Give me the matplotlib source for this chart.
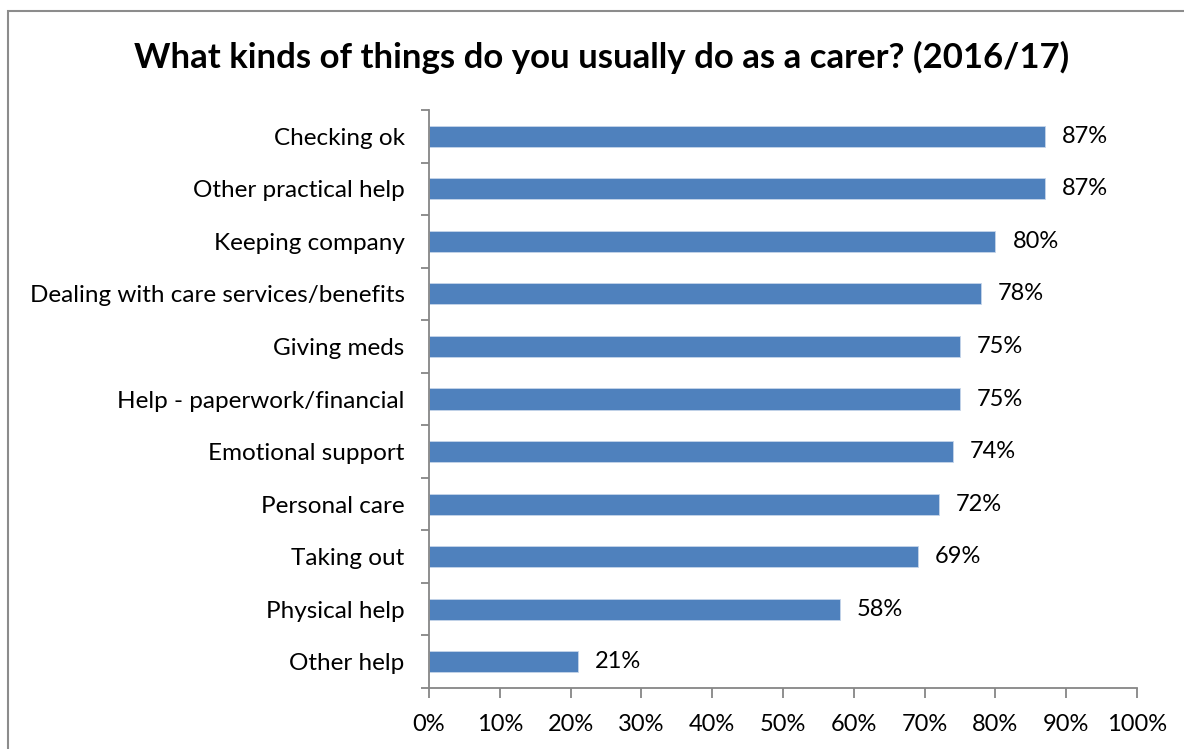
import matplotlib.pyplot as plt
import matplotlib.patches as patches
import numpy as np

plt.rcParams['font.family'] = ['Lato', 'DejaVu Sans']

categories = [
    "Checking ok",
    "Other practical help",
    "Keeping company",
    "Dealing with care services/benefits",
    "Giving meds",
    "Help - paperwork/financial",
    "Emotional support",
    "Personal care",
    "Taking out",
    "Physical help",
    "Other help",
]
values = [87, 87, 80, 78, 75, 75, 74, 72, 69, 58, 21]
x_ticks = list(range(0, 101, 10))
x_tick_labels = [f"{t}%" for t in x_ticks]

BAR_COLOR = "#4F81BD"
AXIS_COLOR = "#868686"

fig = plt.figure(figsize=(11.84, 7.49), dpi=100)
ax = fig.add_axes([429 / 1184, 61 / 749, 708 / 1184, 578 / 749])

y = np.arange(len(categories))
ax.barh(y, values, height=0.4, color=BAR_COLOR, edgecolor="#C6D5EA", linewidth=0.6)

for yi, v in zip(y, values):
    ax.text(v + 2.4, yi, f"{v}%", va="center", ha="left", fontsize=17, color="black")

ax.set_xlim(0, 100)
ax.set_ylim(len(categories) - 0.5, -0.5)
ax.set_yticks(y)
ax.set_yticklabels(categories, fontsize=17.5)
ax.set_yticks(np.arange(-0.5, len(categories)), minor=True)
ax.tick_params(axis="y", which="major", length=0, pad=17.5)
ax.tick_params(axis="y", which="minor", length=6, color=AXIS_COLOR, width=1.3)
ax.set_xticks(x_ticks)
ax.set_xticklabels(x_tick_labels, fontsize=17)
ax.tick_params(axis="x", length=7, color=AXIS_COLOR, width=1.3, pad=12)

for side in ("top", "right"):
    ax.spines[side].set_visible(False)
for side in ("left", "bottom"):
    ax.spines[side].set_color(AXIS_COLOR)
    ax.spines[side].set_linewidth(1.3)

fig.text(602 / 1184, 1 - 57 / 749, "What kinds of things do you usually do as a carer? (2016/17)",
         ha="center", va="center", fontsize=25, fontweight="bold")

# chart area outline, running off the right and bottom edges
frame = patches.Rectangle((8 / 1184, -0.05), 1.2, 1 - 11 / 749 + 0.05,
                          transform=fig.transFigure, fill=False,
                          edgecolor="#8C8C8C", linewidth=1.5, clip_on=False)
fig.patches.append(frame)

fig.savefig("out.png", dpi=100)
